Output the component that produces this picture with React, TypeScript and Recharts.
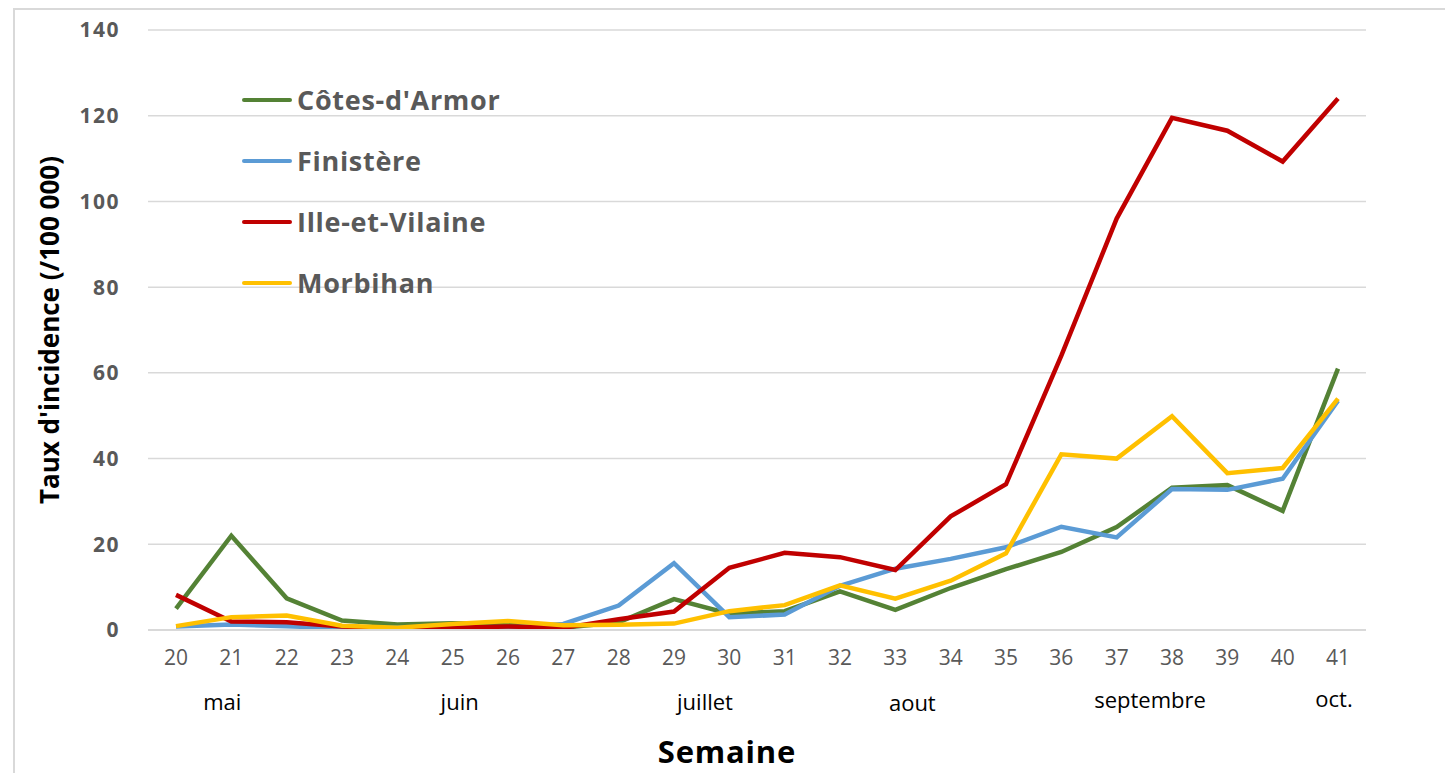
import { CartesianGrid, Label, Line, LineChart, XAxis, YAxis } from "recharts";

const weeks = ["20", "21", "22", "23", "24", "25", "26", "27", "28", "29", "30", "31", "32", "33", "34", "35", "36", "37", "38", "39", "40", "41"];

const cotesArmor = [5, 22, 7.4, 2.2, 1.3, 1.6, 1.3, 0.5, 1.8, 7.2, 3.8, 4.4, 9, 4.7, 9.8, 14.2, 18.2, 24, 33.2, 33.8, 27.8, 61];
const finistere = [0.8, 1.3, 0.9, 0.4, 0.5, 0.5, 0.5, 1.4, 5.7, 15.6, 3, 3.6, 10.3, 14.3, 16.6, 19.3, 24.1, 21.6, 32.9, 32.7, 35.3, 53.5];
const illeEtVilaine = [8.2, 2, 1.8, 0.8, 0.3, 0.5, 0.8, 0.5, 2.5, 4.3, 14.5, 18, 17, 14, 26.5, 34, 64, 96, 119.5, 116.5, 109.3, 124];
const morbihan = [0.9, 3, 3.4, 1, 0.5, 1.4, 2.1, 1.1, 1.2, 1.5, 4.4, 5.8, 10.4, 7.3, 11.5, 17.9, 41, 40, 49.9, 36.6, 37.8, 54];

const yTicks = [0, 20, 40, 60, 80, 100, 120, 140];

// month captions under the week numbers, anchored on a week
const monthLabels = ["mai", "juin", "juillet", "aout", "septembre", "oct."];
const monthWeeks = ["21", "25", "29", "33", "38", "41"];

const monthDx = [-9, 7, 31, 17, -22, -4];
const monthDy = [80, 80, 80, 81, 78, 77];

const series = [
  { key: "cotesArmor", name: "Côtes-d'Armor", color: "#548235" },
  { key: "finistere", name: "Finistère", color: "#5B9BD5" },
  { key: "illeEtVilaine", name: "Ille-et-Vilaine", color: "#C00000" },
  { key: "morbihan", name: "Morbihan", color: "#FFC000" },
];

const data = weeks.map((w, i) => ({
  week: w,
  cotesArmor: cotesArmor[i],
  finistere: finistere[i],
  illeEtVilaine: illeEtVilaine[i],
  morbihan: morbihan[i],
}));

const font = "'Open Sans', sans-serif";

const WeekTick = (props: any) => {
  const { x, y, payload } = props;
  const idx = monthWeeks.indexOf(payload.value);
  return (
    <g>
      <text x={x} y={y + 35} textAnchor="middle" fontSize={21} fill="#595959" fontFamily={font}>
        {payload.value}
      </text>
      {idx >= 0 && (
        <text x={x + monthDx[idx]} y={y + monthDy[idx]} textAnchor="middle" fontSize={22} fill="#000" fontFamily={font}>
          {monthLabels[idx]}
        </text>
      )}
    </g>
  );
};

const LegendBox = () => (
  <div style={{ position: "absolute", left: 234, top: 61, fontFamily: font }}>
    {series.map((s) => (
      <div key={s.key} style={{ display: "flex", alignItems: "center", height: 61 }}>
        <div style={{ width: 50, height: 4, borderRadius: 2, background: s.color, marginRight: 5 }} />
        <span style={{ fontSize: 27, fontWeight: 700, color: "#595959", letterSpacing: 0.7 }}>{s.name}</span>
      </div>
    ))}
  </div>
);

const App = () => {
  return (
    <div style={{ position: "relative", width: 1445, height: 765 }}>
      <div
        style={{
          position: "absolute",
          left: 5,
          top: 0,
          right: 0,
          bottom: 0,
          borderLeft: "2px solid #d9d9d9",
          borderTop: "2px solid #d9d9d9",
        }}
      />
      <LineChart width={1445} height={765} data={data} margin={{ top: 22, right: 87, left: 0, bottom: 0 }}>
        <CartesianGrid vertical={false} stroke="#d9d9d9" strokeWidth={1.5} />
        <XAxis
          dataKey="week"
          height={143}
          padding={{ left: 28, right: 28 }}
          axisLine={{ stroke: "#d9d9d9", strokeWidth: 2 }}
          tickLine={false}
          tickSize={0}
          tickMargin={0}
          interval={0}
          tick={<WeekTick />}
        >
          <Label
            value="Semaine"
            position="insideBottom"
            offset={10}
            dx={-30}
            style={{ fontSize: 31, fontWeight: 700, fill: "#000", fontFamily: font, letterSpacing: 0.8 }}
          />
        </XAxis>
        <YAxis
          width={140}
          domain={[0, 140]}
          ticks={yTicks}
          axisLine={false}
          tickLine={false}
          tickMargin={22}
          tick={{ fontSize: 21, fontWeight: 700, fill: "#595959", fontFamily: font, letterSpacing: 1.5 }}
        >
          <Label
            value="Taux d'incidence (/100 000)"
            angle={-90}
            position="insideLeft"
            offset={42}
            style={{ textAnchor: "middle", fontSize: 26, fontWeight: 700, fill: "#000", fontFamily: font }}
          />
        </YAxis>
        {series.map((s) => (
          <Line
            key={s.key}
            type="linear"
            dataKey={s.key}
            name={s.name}
            stroke={s.color}
            strokeWidth={4.5}
            dot={false}
            activeDot={false}
            isAnimationActive={false}
          />
        ))}
      </LineChart>
      <LegendBox />
    </div>
  );
};

export default App;
